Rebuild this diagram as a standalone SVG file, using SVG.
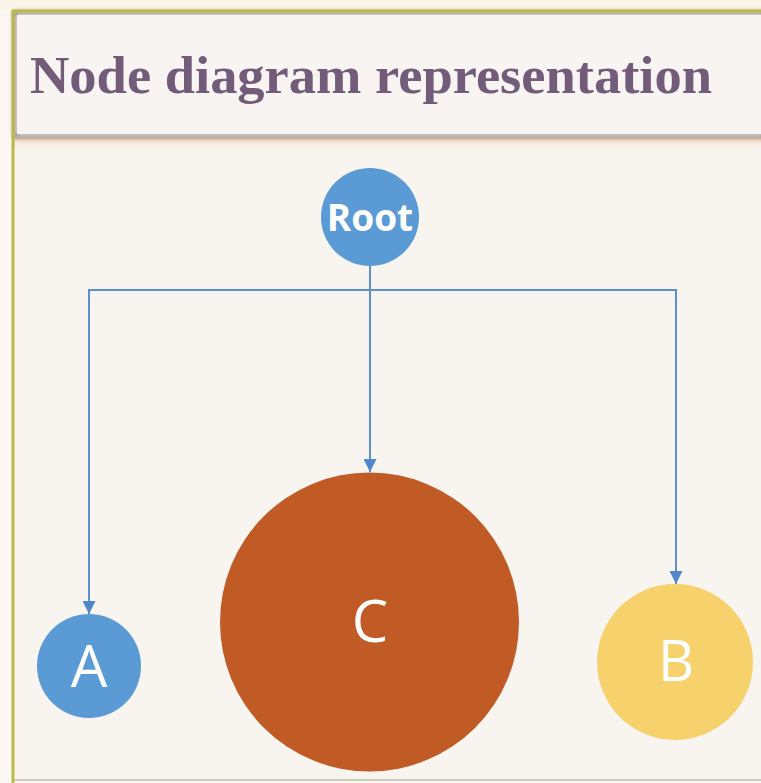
<svg xmlns="http://www.w3.org/2000/svg" width="761" height="783" viewBox="0 0 761 783">
<defs>
<style>
.conn{fill:none;stroke:#5b8fd0;stroke-width:2}
.lbl{font-family:"Open Sans","Liberation Sans",sans-serif;fill:#ffffff;text-anchor:middle}
</style>
<marker id="arr" viewBox="0 0 10 10" refX="10" refY="5" markerWidth="13" markerHeight="13" markerUnits="userSpaceOnUse" orient="auto">
<path d="M0,0 L10,5 L0,10 Z" fill="#4f86cc"/>
</marker>
<linearGradient id="peach" x1="0" y1="0" x2="0" y2="1">
<stop offset="0" stop-color="#f5cfae"/>
<stop offset="1" stop-color="#f8f4f0" stop-opacity="0"/>
</linearGradient>
<filter id="inner" x="-5%" y="-20%" width="110%" height="140%">
<feGaussianBlur stdDeviation="2"/>
</filter>
</defs>
<rect x="0" y="0" width="761" height="783" fill="#fbf7f3"/>
<rect x="14" y="12" width="747" height="768" fill="#f8f4f0"/>
<g id="title-bar">
<rect x="0" y="0" width="761" height="10" fill="#fbf4e8"/>
<rect x="14" y="137" width="747" height="14" fill="url(#peach)"/>
<rect x="15" y="13" width="750" height="123" fill="#f8f4f1" stroke="#5f5c58" stroke-width="3" filter="url(#inner)"/>
<rect x="17" y="15" width="750" height="119" fill="#f8f4f1"/>
<line x1="12" y1="11" x2="761" y2="11" stroke="#bcbc45" stroke-width="3"/>
<text x="30" y="93" font-family="'Liberation Serif','DejaVu Serif',serif" font-weight="bold" font-size="53" fill="#735b7a" textLength="682" lengthAdjust="spacingAndGlyphs">Node diagram representation</text>
</g>
<line x1="13" y1="10" x2="13" y2="783" stroke="#b9b944" stroke-width="3"/>
<line x1="14" y1="780" x2="761" y2="780" stroke="#cfcdbf" stroke-width="2"/>
<g id="connectors">
<path class="conn" d="M370,265 V472" marker-end="url(#arr)"/>
<path class="conn" d="M370,290 H89 V614" marker-end="url(#arr)"/>
<path class="conn" d="M370,290 H676 V584" marker-end="url(#arr)"/>
</g>
<g id="node-root">
<circle cx="370" cy="217" r="49" fill="#5b9bd5"/>
<text class="lbl" x="370" y="231" font-size="37" font-weight="bold">Root</text>
</g>
<g id="node-a">
<circle cx="89" cy="666" r="52" fill="#5b9bd5"/>
<text class="lbl" x="89" y="687" font-size="58">A</text>
</g>
<g id="node-c">
<circle cx="369.5" cy="622" r="149.5" fill="#c05b26"/>
<text class="lbl" x="370" y="642" font-size="58">C</text>
</g>
<g id="node-b">
<circle cx="675" cy="662" r="78" fill="#f7d16b"/>
<text class="lbl" x="676" y="681" font-size="56">B</text>
</g>
</svg>
